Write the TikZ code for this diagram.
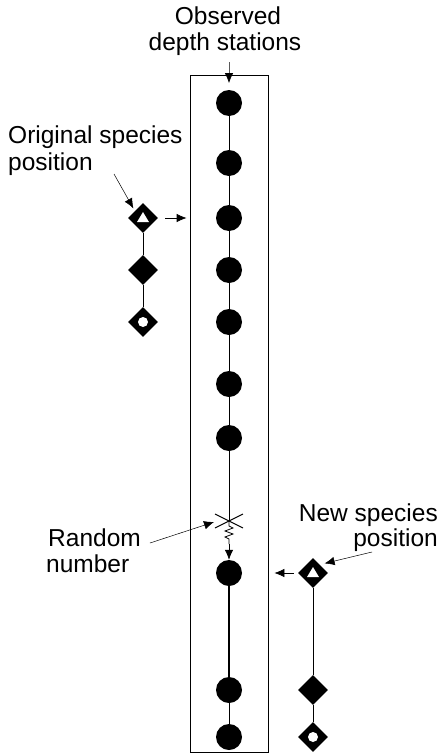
\documentclass[tikz,border=0pt]{standalone}
\usepackage{fontspec}
\setmainfont{Liberation Sans}
\usetikzlibrary{arrows.meta,shapes.geometric,calc}
\begin{document}
\begin{tikzpicture}[x=1pt,y=-1pt,
  station/.style={circle,fill=black,minimum size=26pt,inner sep=0pt},
  spec/.style={diamond,fill=black,minimum size=30pt,inner sep=0pt},
  lbl/.style={font=\fontsize{24.5}{27}\selectfont,inner sep=0pt},
  arr/.style={-{Latex[length=10pt,width=8.5pt]},line width=0.7pt},
  thinline/.style={line width=0.6pt},
  boxsty/.style={draw,line width=0.7pt,inner sep=0pt}]
\useasboundingbox (0,0) rectangle (440,755);
% title
\node[lbl,anchor=base] (t1) at (228,24) {Observed};
\node[lbl,anchor=base] (t2) at (225,50) {depth stations};
% box
\node[boxsty,minimum width=78pt,minimum height=677pt] (box) at (229,414) {};
% stations
\foreach \n/\y in {1/103,2/163,3/218,4/270,5/322,6/384,7/438,8/573,9/690,10/737}
  \node[station] (C\n) at (229,\y) {};
\coordinate (ta) at (229,62);
\draw[arr] (ta) -- (C1 |- box.north) -- ++(0,8);
\draw[thinline] (C1) -- (C2) -- (C3) -- (C4) -- (C5) -- (C6) -- (C7);
% random cross
\coordinate (X) at (229,521);
\draw[thinline] (C7) -- (X);
\draw[line width=1.1pt] ($(X)+(-14,-7)$) -- ($(X)+(14,7)$);
\draw[line width=1.1pt] ($(X)+(-14,7)$) -- ($(X)+(14,-7)$);
\coordinate (Z) at (229,544);
\draw[line width=0.8pt] (X) -- ++(0,5) -- ++(4,2) -- ++(-8,3) -- ++(8,3) -- ++(-8,3) -- ++(4,2) -- (Z);
\draw[arr] (Z) -- (C8);
\draw[line width=1.3pt] (C8) -- (C9);
\draw[thinline] (C9) -- (C10);
% left species
\node[spec] (L1) at (143,218) {};
\node[spec] (L2) at (143,270) {};
\node[spec] (L3) at (143,322) {};
\draw[thinline] (L1) -- (L2) -- (L3);
\fill[white] ($(L1)+(-6,4)$) -- ($(L1)+(6,4)$) -- ($(L1)+(0,-6)$) -- cycle;
\fill[white] (L3) circle (5pt);
\draw[arr] ([xshift=7pt]L1.east) -- ([xshift=-3pt]L1.east -| box.west);
% right species
\node[spec] (R1) at (313,573) {};
\node[spec] (R2) at (313,690) {};
\node[spec] (R3) at (313,737) {};
\draw[thinline] (R1) -- (R2) -- (R3);
\fill[white] ($(R1)+(-6,4)$) -- ($(R1)+(6,4)$) -- ($(R1)+(0,-6)$) -- cycle;
\fill[white] (R3) circle (5pt);
\draw[arr] ([xshift=-4pt]R1.west) -- ([xshift=6pt]R1.west -| box.east);
% labels
\node[lbl,anchor=base west] (o1) at (8,143) {Original species};
\node[lbl,anchor=base west] (o2) at (8,170) {position};
\coordinate (oa) at (114,174);
\draw[arr,line width=0.5pt] (oa) -- ([shift={(-2pt,2pt)}]L1.north west);
\node[lbl,anchor=base west] (r1) at (48,546) {Random};
\node[lbl,anchor=base west] (r2) at (46,572) {number};
\coordinate (ra) at (150,543);
\draw[arr,line width=0.5pt] (ra) -- ($(X)+(-15,1)$);
\node[lbl,anchor=base east] (n1) at (438,521) {New species};
\node[lbl,anchor=base east] (n2) at (438,546) {position};
\coordinate (na) at (372,552);
\draw[arr,line width=0.5pt] (na) -- ([shift={(4pt,2pt)}]R1.north east);
\end{tikzpicture}
\end{document}
